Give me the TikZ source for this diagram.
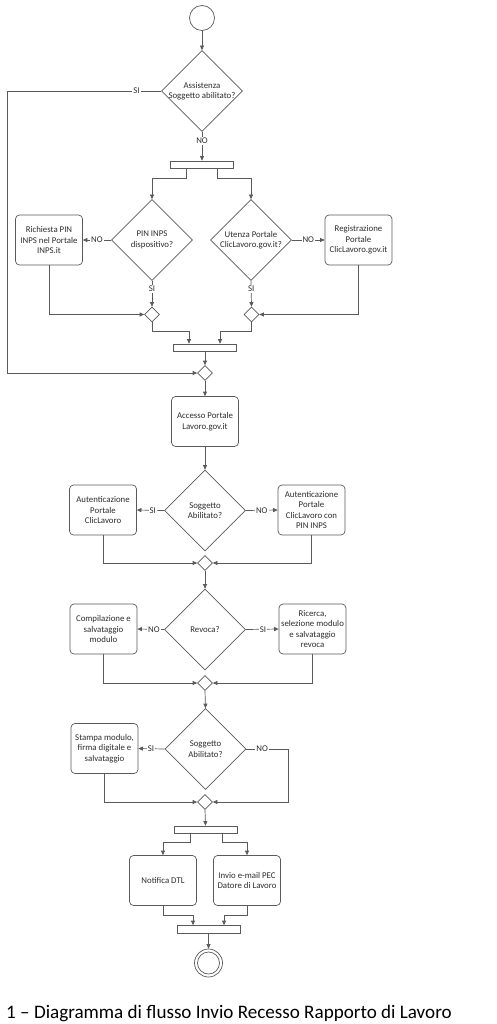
\documentclass[tikz,border=0pt]{standalone}
\usepackage{fontspec}
\setmainfont{Carlito}
\usetikzlibrary{shapes.geometric,arrows.meta}
\definecolor{lc}{RGB}{90,90,90}
\definecolor{tc}{RGB}{45,45,45}
\tikzset{
  base/.style={draw=lc, line width=0.7pt, text=tc, font=\fontsize{8.8}{10.5}\selectfont},
  box/.style={base, rounded corners=4pt, minimum width=67pt, minimum height=50pt, align=center, inner sep=1pt, fill=white},
  dec/.style={base, diamond, minimum width=81pt, minimum height=81pt, inner xsep=-14pt, inner ysep=-8pt, align=center},
  merge/.style={base, diamond, minimum width=15pt, minimum height=15pt, inner sep=0pt, fill=white},
  bar/.style={base, rectangle, fill=white, minimum width=63pt, minimum height=7pt, inner sep=0pt},
  arr/.style={draw=lc, line width=0.7pt, -{Triangle[length=4.5pt,width=4pt]}},
  ln/.style={draw=lc, line width=0.7pt},
  lbl/.style={fill=white, inner sep=1pt, text=tc, font=\fontsize{8.8}{10.5}\selectfont}
}
\begin{document}
\begin{tikzpicture}[x=1pt,y=-1pt]
\useasboundingbox (0,0) rectangle (497,1024);
% nodes
\node[base, circle, minimum size=25pt, inner sep=0pt, fill=white] (start) at (202,18) {};
\node[dec] (d1) at (202,91) {Assistenza\\Soggetto abilitato?};
\node[bar] (bar1) at (202,164.5) {};
\node[dec] (d2) at (152,240) {PIN INPS\\dispositivo?};
\node[dec] (d3) at (251,240) {Utenza Portale\\ClicLavoro.gov.it?};
\node[box] (r1) at (49,240) {Richiesta PIN\\INPS nel Portale\\INPS.it};
\node[box] (r2) at (358.5,240) {Registrazione\\Portale\\ClicLavoro.gov.it};
\node[merge] (m1) at (152,314.5) {};
\node[merge] (m1b) at (251.5,314.5) {};
\node[bar] (bar2) at (205,347.5) {};
\node[merge] (m2) at (205,373) {};
\node[box] (acc) at (205,421.5) {Accesso Portale\\Lavoro.gov.it};
\node[dec] (d4) at (205,510.5) {Soggetto\\Abilitato?};
\node[box] (a1) at (103,510) {Autenticazione\\Portale\\ClicLavoro};
\node[box] (a2) at (311.5,510) {Autenticazione\\Portale\\ClicLavoro con\\PIN INPS};
\node[merge] (m3) at (205,563) {};
\node[dec] (d5) at (205,629.5) {Revoca?};
\node[box] (c1) at (103.5,629) {Compilazione e\\salvataggio\\modulo};
\node[box] (c2) at (312.5,629) {Ricerca,\\selezione modulo\\e salvataggio\\revoca};
\node[merge] (m4) at (205,683) {};
\node[dec] (d6) at (205.5,749) {Soggetto\\Abilitato?};
\node[box] (s1) at (104.5,748.5) {Stampa modulo,\\firma digitale e\\salvataggio};
\node[merge] (m5) at (205,802) {};
\node[bar] (bar3) at (205.5,829.5) {};
\node[box] (n1) at (163,880.5) {Notifica DTL};
\node[box] (n2) at (247,880.5) {Invio e-mail PEC\\Datore di Lavoro};
\node[bar, minimum height=8pt] (bar4) at (208.5,929.5) {};
\node[base, circle, minimum size=28pt, inner sep=0pt, fill=white] (end) at (208.5,963) {};
\node[base, circle, minimum size=22pt, inner sep=0pt, fill=white] (endin) at (208.5,963) {};
\coordinate (rail1) at (7,91);
\coordinate (rail2) at (288,749);
% connectors
\draw[arr] (start.south) -- (d1.north);
\draw[arr] (d1.west) -- node[lbl,pos=0.16]{SI} (rail1) |- (m2.west);
\draw[arr] (d1.south) -- node[lbl,pos=0.31]{NO} (bar1.north);
\draw[arr] ([xshift=-16pt]bar1.south) -- ++(0,10) -| (d2.north);
\draw[arr] ([xshift=15pt]bar1.south) -- ++(0,10) -| (d3.north);
\draw[arr] (d2.west) -- node[lbl,pos=0.5]{NO} (r1.east);
\draw[arr] (d3.east) -- node[lbl,pos=0.5]{NO} (r2.west);
\draw[arr] (d2.south) -- node[lbl,pos=0.32]{SI} (m1.north);
\draw[arr] (d3.south) -- node[lbl,pos=0.32]{SI} (m1b.north);
\draw[arr] (r1.south) |- (m1.west);
\draw[arr] (r2.south) |- (m1b.east);
\draw[arr] (m1.south) -- ++(0,9) -| ([xshift=-16pt]bar2.north);
\draw[arr] (m1b.south) -- ++(0,9) -| ([xshift=15pt]bar2.north);
\draw[arr] (bar2.south) -- (m2.north);
\draw[arr] (m2.south) -- (acc.north);
\draw[arr] (acc.south) -- (d4.north);
\draw[arr] (d4.west) -- node[lbl,pos=0.42]{SI} (a1.east);
\draw[arr] (d4.east) -- node[lbl,pos=0.5]{NO} (a2.west);
\draw[arr] (a1.south) |- (m3.west);
\draw[arr] (a2.south) |- (m3.east);
\draw[arr] (m3.south) -- (d5.north);
\draw[arr] (d5.west) -- node[lbl,pos=0.38]{NO} (c1.east);
\draw[arr] (d5.east) -- node[lbl,pos=0.52]{SI} (c2.west);
\draw[arr] (c1.south) |- (m4.west);
\draw[arr] (c2.south) |- (m4.east);
\draw[arr] (m4.south) -- (d6.north);
\draw[arr] (d6.west) -- node[lbl,pos=0.52]{SI} (s1.east);
\draw[arr] (d6.east) -- node[lbl,pos=0.38]{NO} (rail2) |- (m5.east);
\draw[arr] (s1.south) |- (m5.west);
\draw[arr] (m5.south) -- (bar3.north);
\draw[arr] ([xshift=-15.5pt]bar3.south) -- ++(0,9) -| (n1.north);
\draw[arr] ([xshift=16.5pt]bar3.south) -- ++(0,9) -| (n2.north);
\draw[arr] (n1.south) -- ++(0,9) -| ([xshift=-15.5pt]bar4.north);
\draw[arr] (n2.south) -- ++(0,9) -| ([xshift=15.5pt]bar4.north);
\draw[arr] (bar4.south) -- (end.north);
% caption
\node[anchor=west, inner sep=0pt, text=black, font=\fontsize{19.1}{22}\selectfont] (cap) at (6,1013) {1 – Diagramma di flusso Invio Recesso Rapporto di Lavoro};
\end{tikzpicture}
\end{document}
